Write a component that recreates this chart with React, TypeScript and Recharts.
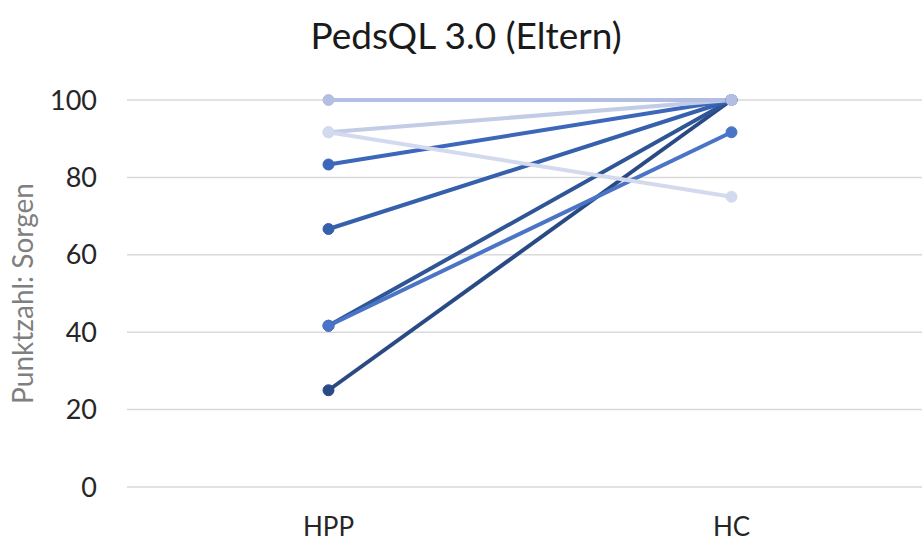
import { LineChart, Line, XAxis, YAxis, CartesianGrid } from 'recharts';

const categories = ['HPP', 'HC'];

// one patient per series, HPP -> HC
const p1 = [25, 100];
const p2 = [41.67, 100];
const p3 = [41.67, 91.67];
const p4 = [66.67, 100];
const p5 = [83.33, 100];
const p6 = [91.67, 100];
const p7 = [91.67, 75];
const p8 = [100, 100];

const yTicks = [0, 20, 40, 60, 80, 100];

const series = [
    { key: 'p1', values: p1, color: '#2a4a86' },
    { key: 'p2', values: p2, color: '#2f5597' },
    { key: 'p3', values: p3, color: '#4a74c6' },
    { key: 'p4', values: p4, color: '#3560ab' },
    { key: 'p5', values: p5, color: '#3c67bb' },
    { key: 'p6', values: p6, color: '#c3cce6' },
    { key: 'p8', values: p8, color: '#b3bfe2' },
    { key: 'p7', values: p7, color: '#d3daee' },
];

const data = categories.map((cat, i) => {
    const row: Record<string, string | number> = { cat };
    series.forEach((s) => {
        row[s.key] = s.values[i];
    });
    return row;
});

const FONT = 'Lato, "Open Sans", sans-serif';

const YLabel = ({ viewBox }: { viewBox?: { x: number; y: number; width: number; height: number } }) => {
    if (!viewBox) return null;
    const cy = viewBox.y + viewBox.height / 2;
    return (
        <text
            x={22}
            y={cy}
            transform={`rotate(-90, 22, ${cy})`}
            textAnchor="middle"
            dominantBaseline="central"
            fill="#7f7f7f"
            fontSize={28}
            fontFamily={FONT}
        >
            Punktzahl: Sorgen
        </text>
    );
};

export default function App() {
    return (
        <div
            style={{
                position: 'absolute',
                left: 0,
                top: 0,
                width: 922,
                height: 541,
                overflow: 'hidden',
                background: '#fff',
                fontFamily: FONT,
            }}
        >
            <div
                style={{
                    position: 'absolute',
                    top: 12,
                    left: 0,
                    width: 932,
                    textAlign: 'center',
                    fontSize: 37,
                    lineHeight: '46px',
                    color: '#1a1a1a',
                }}
            >
                PedsQL 3.0 (Eltern)
            </div>
            <LineChart
                width={940}
                height={541}
                data={data}
                margin={{ top: 100, right: 7, bottom: 0, left: 0 }}
            >
                <CartesianGrid vertical={false} stroke="#d9d9d9" strokeWidth={1.5} />
                <XAxis
                    dataKey="cat"
                    height={54}
                    padding={{ left: 201.5, right: 201.5 }}
                    axisLine={false}
                    tickLine={false}
                    tickSize={0}
                    tickMargin={31}
                    tick={{ fill: '#262626', fontSize: 26, fontFamily: FONT }}
                />
                <YAxis
                    domain={[0, 100]}
                    ticks={yTicks}
                    width={127}
                    axisLine={false}
                    tickLine={false}
                    tickSize={0}
                    tickMargin={30}
                    tick={{ fill: '#262626', fontSize: 27, fontFamily: FONT }}
                    label={<YLabel />}
                />
                {series.map((s) => (
                    <Line
                        key={s.key}
                        dataKey={s.key}
                        stroke={s.color}
                        strokeWidth={4}
                        dot={{ r: 5.5, fill: s.color, stroke: s.color, strokeWidth: 1 }}
                        isAnimationActive={false}
                    />
                ))}
            </LineChart>
        </div>
    );
}
